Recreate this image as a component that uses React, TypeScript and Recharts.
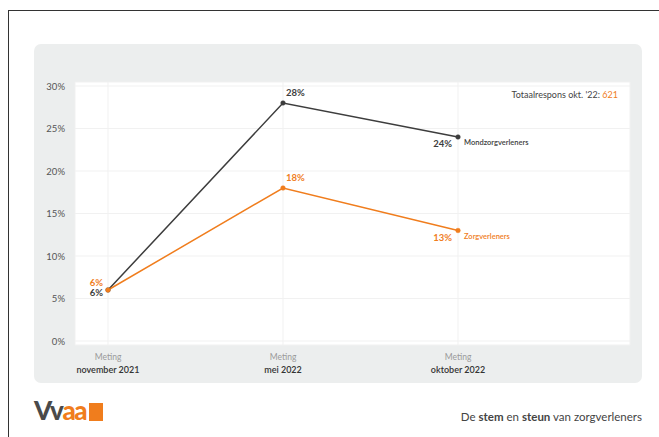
import React from "react";
import { LineChart, Line, XAxis, YAxis, CartesianGrid, LabelList } from "recharts";

const categories = ["november 2021", "mei 2022", "oktober 2022"];
const mondzorgValues = [6, 28, 24];
const zorgValues = [6, 18, 13];
const yTicks = [0, 5, 10, 15, 20, 25, 30];
const seriesNames = ["Mondzorgverleners", "Zorgverleners"];

const DARK = "#3d3d3d";
const ORANGE = "#f07d1d";
const FONT = "Lato, 'DejaVu Sans', sans-serif";

const data = categories.map((c, i) => ({
  cat: c,
  mondzorg: mondzorgValues[i],
  zorg: zorgValues[i],
}));

const XTick = (props: any) => {
  const { x, y, payload } = props;
  return (
    <g>
      <text x={x} y={y} textAnchor="middle" fontFamily={FONT} fontSize={8.5} fill="#9a9a9a" dy={7}>
        Meting
      </text>
      <text x={x} y={y} textAnchor="middle" fontFamily={FONT} fontSize={9} fontWeight={600} fill="#333" dy={20}>
        {payload.value}
      </text>
    </g>
  );
};

const YTick = (props: any) => {
  const { x, y, payload } = props;
  return (
    <text x={x} y={y} textAnchor="end" fontFamily={FONT} fontSize={9.5} fill="#555" dy={3.5}>
      {payload.value}%
    </text>
  );
};

const makeLabel = (color: string, series: number) => (props: any) => {
  const { x, y, value, index } = props;
  const txt = `${value}%`;
  const common = { fontFamily: FONT, fontSize: 9.5, fontWeight: 700, fill: color } as any;
  if (index === 0) {
    const dy = series === 0 ? 3 : -7;
    return (
      <text x={x - 5} y={y + dy} textAnchor="end" {...common} dy={3}>
        {txt}
      </text>
    );
  }
  if (index === 1) {
    return (
      <text x={x + 3} y={y - 7} textAnchor="start" {...common}>
        {txt}
      </text>
    );
  }
  return (
    <g>
      <text x={x - 6} y={y + 10} textAnchor="end" {...common}>
        {txt}
      </text>
      <text x={x + 6} y={y + 8} textAnchor="start" fontFamily={FONT} fontSize={7.5} fontWeight={600} fill={color}>
        {seriesNames[series]}
      </text>
    </g>
  );
};

export default function App() {
  return (
    <div style={{ position: "absolute", left: 0, top: 0, width: 659, height: 437, background: "#fff", overflow: "hidden" }}>
      <div
        style={{
          position: "absolute",
          left: 8,
          top: 10,
          width: 660,
          height: 440,
          borderTop: "1.5px solid #333",
          borderLeft: "1.5px solid #333",
        }}
      />
      <div
        style={{
          position: "absolute",
          left: 34,
          top: 44,
          width: 608,
          height: 339,
          background: "#eceeee",
          borderRadius: 7,
        }}
      />
      <div style={{ position: "absolute", left: 0, top: 0 }}>
        <LineChart width={659} height={437} data={data} margin={{ top: 82, right: 29, bottom: 52, left: 35 }}>
          <CartesianGrid stroke="#f1f1f1" strokeWidth={1} fill="#ffffff" />
          <XAxis
            dataKey="cat"
            axisLine={false}
            tickLine={false}
            tick={<XTick />}
            height={40}
            padding={{ left: 33, right: 172 }}
            interval={0}
          />
          <YAxis
            domain={[0, 30]}
            ticks={yTicks}
            axisLine={false}
            tickLine={false}
            tick={<YTick />}
            width={40}
            tickMargin={4}
            padding={{ top: 4, bottom: 4 }}
            interval={0}
          />
          <Line
            dataKey="mondzorg"
            stroke={DARK}
            strokeWidth={1.5}
            dot={{ r: 2.3, fill: DARK, stroke: DARK, strokeWidth: 0.5 }}
            isAnimationActive={false}
          >
            <LabelList dataKey="mondzorg" content={makeLabel(DARK, 0)} />
          </Line>
          <Line
            dataKey="zorg"
            stroke={ORANGE}
            strokeWidth={1.5}
            dot={{ r: 2.3, fill: ORANGE, stroke: ORANGE, strokeWidth: 0.5 }}
            isAnimationActive={false}
          >
            <LabelList dataKey="zorg" content={makeLabel(ORANGE, 1)} />
          </Line>
        </LineChart>
      </div>
      <div
        style={{
          position: "absolute",
          right: 41,
          top: 89,
          fontFamily: FONT,
          fontSize: 9,
          color: "#444",
          whiteSpace: "nowrap",
        }}
      >
        Totaalrespons okt. '22: <span style={{ color: ORANGE }}>621</span>
      </div>
      <div
        style={{
          position: "absolute",
          left: 34,
          top: 395,
          fontFamily: FONT,
          fontSize: 26,
          fontWeight: 900,
          letterSpacing: -1.5,
          lineHeight: "30px",
          whiteSpace: "nowrap",
          display: "flex",
          alignItems: "center",
        }}
      >
        <span style={{ color: "#4a4a4a" }}>Vv</span>
        <span style={{ color: ORANGE }}>aa</span>
        <span
          style={{
            display: "inline-block",
            width: 14,
            height: 18,
            background: ORANGE,
            marginLeft: 3,
            marginTop: 4,
          }}
        />
      </div>
      <div
        style={{
          position: "absolute",
          right: 17,
          top: 410,
          fontFamily: FONT,
          fontSize: 11.5,
          color: "#444",
          whiteSpace: "nowrap",
        }}
      >
        De <b>stem</b> en <b>steun</b> van zorgverleners
      </div>
    </div>
  );
}
